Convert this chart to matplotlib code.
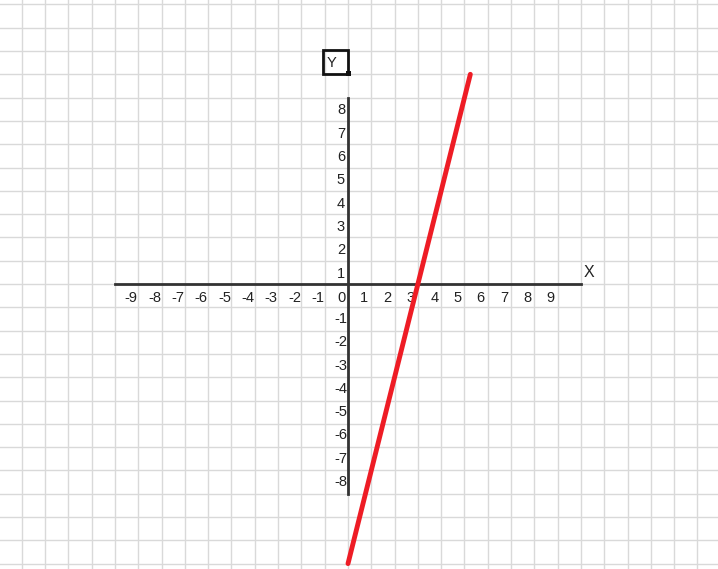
import matplotlib
matplotlib.use("Agg")
import matplotlib.pyplot as plt
import numpy as np
from matplotlib.patches import Rectangle

x_ticks = [-9,-8,-7,-6,-5,-4,-3,-2,-1,0,1,2,3,4,5,6,7,8,9]
y_ticks_pos = [1,2,3,4,5,6,7,8]
y_ticks_neg = [-1,-2,-3,-4,-5,-6,-7,-8]
line_x = [0.0, 5.25]
slope, intercept = 4, -12
line_y = [slope*v+intercept for v in line_x]

W, H = 718, 569
u = 23.3
ox, oy = 348, 284
fig = plt.figure(figsize=(W/100, H/100), dpi=100)
ax = fig.add_axes([0,0,1,1])
ax.set_xlim(-ox/u, (W-ox)/u)
ax.set_ylim(-(H-oy)/u, oy/u)
ax.axis('off')

for k in range(-16, 17):
    ax.axvline(k, color='#d9d9d9', lw=1, zorder=0)
    ax.axhline(k, color='#d9d9d9', lw=1, zorder=0)

ax.plot([-10, 10], [0, 0], color='#333333', lw=2, zorder=2)
ax.plot([0, 0], [-9, 8], color='#333333', lw=2, zorder=2)

fs = 10.5
for v in x_ticks:
    ax.text(v-0.3, -0.6, str(v), ha='center', va='center', fontsize=fs, color='#222222', family='Liberation Sans')
for v in y_ticks_pos:
    ax.text(-0.3, v-0.55, str(v), ha='center', va='center', fontsize=fs, color='#222222', family='Liberation Sans')
for v in y_ticks_neg:
    ax.text(-0.3, v-0.5, str(v), ha='center', va='center', fontsize=fs, color='#222222', family='Liberation Sans')

ax.text(10.35, 0.5, 'X', ha='center', va='center', fontsize=fs+1, color='#222222', family='Liberation Sans')
ax.add_patch(Rectangle((-25/u, (oy-74)/u), 25/u, 24/u, fill=False, ec='#111111', lw=2, zorder=3))
ax.add_patch(Rectangle((-2/u, (oy-76)/u), 5/u, 5/u, fill=True, fc='#111111', ec='none', zorder=3))
ax.text(-0.72, (oy-63)/u, 'Y', ha='center', va='center', fontsize=fs, color='#222222', family='Liberation Sans')

ax.plot(line_x, line_y, color='#ee1c25', lw=3.5, solid_capstyle='round', zorder=4)

fig.savefig('out.png', dpi=100)
